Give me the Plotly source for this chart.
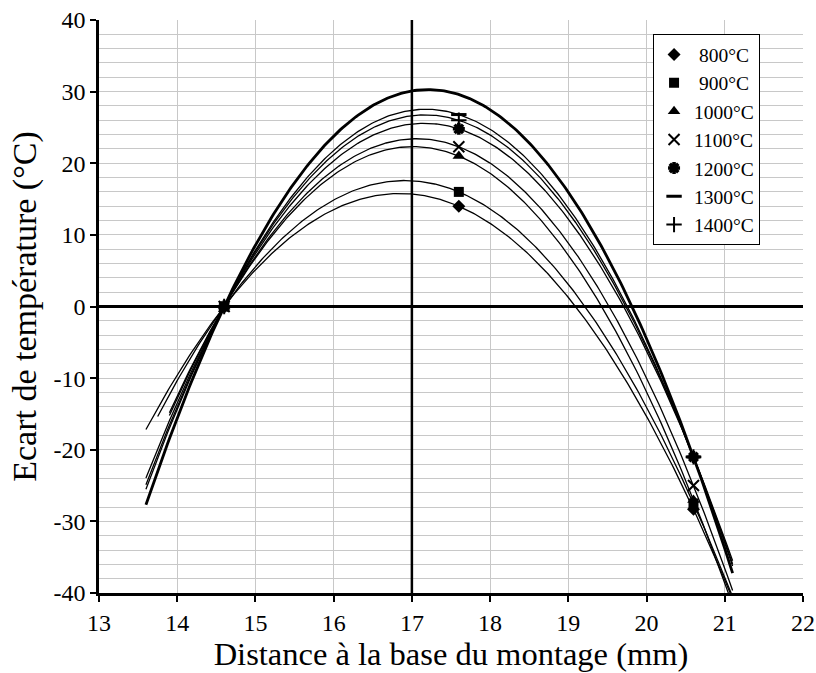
import numpy as np
import plotly.graph_objects as go

# ---- data ----
distances = [14.6, 17.6, 20.6]
series_names = ["\u00a0800°C", "\u00a0900°C", "1000°C", "1100°C", "1200°C", "1300°C", "1400°C"]
t800 = [0, 14.0, -28.3]
t900 = [0, 16.0, -27.5]
t1000 = [0, 21.0, -27.0]
t1100 = [0, 22.3, -25.0]
t1200 = [0, 24.8, -21.0]
t1300 = [0, 26.8, -21.0]
t1400 = [0, 26.0, -21.0]
# extra bold trend curve (no markers)
t_bold = [0, 29.6, -21.0]
# trendline extents (start of backward forecast, end of forward forecast)
trend_start = [13.6, 13.75, 13.9, 13.9, 13.6, 13.6, 13.6]
trend_start_bold = 13.6
trend_end = 21.1

x_ticks = list(range(13, 23))
x_tick_labels = [str(v) for v in x_ticks]
y_ticks = list(range(-40, 41, 10))
y_tick_labels = ["-40", "-30", "-20", "-10", "0", "10", "20", "30", "40"]

series_values = [t800, t900, t1000, t1100, t1200, t1300, t1400]
symbols = ["diamond", "square", "triangle-up", "x-thin-open", "asterisk-open",
           "line-ew-open", "cross-thin-open"]
sizes = [10, 10, 11, 11, 10, 11, 11]
widths = [0, 0, 0, 2, 3.5, 3, 2]

FONT = "Liberation Serif"

fig = go.Figure()

def trend(xs, ys, x0, x1):
    coef = np.polyfit(xs, ys, 2)
    xx = np.linspace(x0, x1, 300)
    return xx, np.polyval(coef, xx)

for i, vals in enumerate(series_values):
    xx, yy = trend(distances, vals, trend_start[i], trend_end)
    fig.add_trace(go.Scatter(x=xx, y=yy, mode="lines",
                             line=dict(color="black", width=1.3),
                             showlegend=False, hoverinfo="skip"))

xx, yy = trend(distances, t_bold, trend_start_bold, trend_end)
fig.add_trace(go.Scatter(x=xx, y=yy, mode="lines",
                         line=dict(color="black", width=2.8),
                         showlegend=False, hoverinfo="skip"))

for i, vals in enumerate(series_values):
    fig.add_trace(go.Scatter(
        x=distances, y=vals, mode="markers", name=series_names[i],
        legendgroup=str(i),
        marker=dict(symbol=symbols[i], size=sizes[i], color="black",
                    line=dict(color="black", width=widths[i]))))

# bold reference line at x = 17
REF_X = 17
fig.add_shape(type="line", xref="x", yref="paper", x0=REF_X, x1=REF_X, y0=0, y1=1,
              line=dict(color="black", width=2.5), layer="above")

fig.update_layout(
    width=816, height=673,
    margin=dict(l=99, r=13, t=20, b=80),
    paper_bgcolor="white", plot_bgcolor="white",
    font=dict(family=FONT, color="black"),
    showlegend=True,
    legend=dict(x=0.787, y=0.975, xanchor="left", yanchor="top",
                bgcolor="white", bordercolor="black", borderwidth=1,
                font=dict(family=FONT, size=19.5, color="black"),
                traceorder="grouped", tracegroupgap=0,
                itemwidth=30),
    xaxis=dict(range=[13, 22], tickvals=x_ticks, ticktext=x_tick_labels,
               ticks="outside", ticklen=6,
               tickwidth=1.5, tickcolor="black", automargin=False,
               ticklabeloverflow="allow",
               showgrid=True, gridcolor="#c8c8c8", gridwidth=1,
               showline=True, linecolor="black", linewidth=2.5,
               zeroline=False,
               tickfont=dict(family=FONT, size=24),
               title=dict(text="Distance à la base du montage (mm)",
                          font=dict(family=FONT, size=32.5), standoff=8)),
    yaxis=dict(range=[-40, 40], tickvals=y_ticks, ticktext=y_tick_labels,
               ticks="outside", ticklen=6,
               tickwidth=1.5, tickcolor="black", automargin=False,
               ticklabeloverflow="allow",
               showgrid=True, gridcolor="#c8c8c8", gridwidth=1,
               minor=dict(dtick=2, showgrid=True, gridcolor="#c8c8c8", gridwidth=1),
               showline=True, linecolor="black", linewidth=2.5,
               zeroline=True, zerolinecolor="black", zerolinewidth=3,
               tickfont=dict(family=FONT, size=24),
               title=dict(text="Ecart de température (°C)",
                          font=dict(family=FONT, size=34), standoff=7)),
)

fig.write_html("out.html",
               config={"displayModeBar": False},
               post_script="document.body.style.margin='0';"
                           "document.body.style.overflow='hidden';")
